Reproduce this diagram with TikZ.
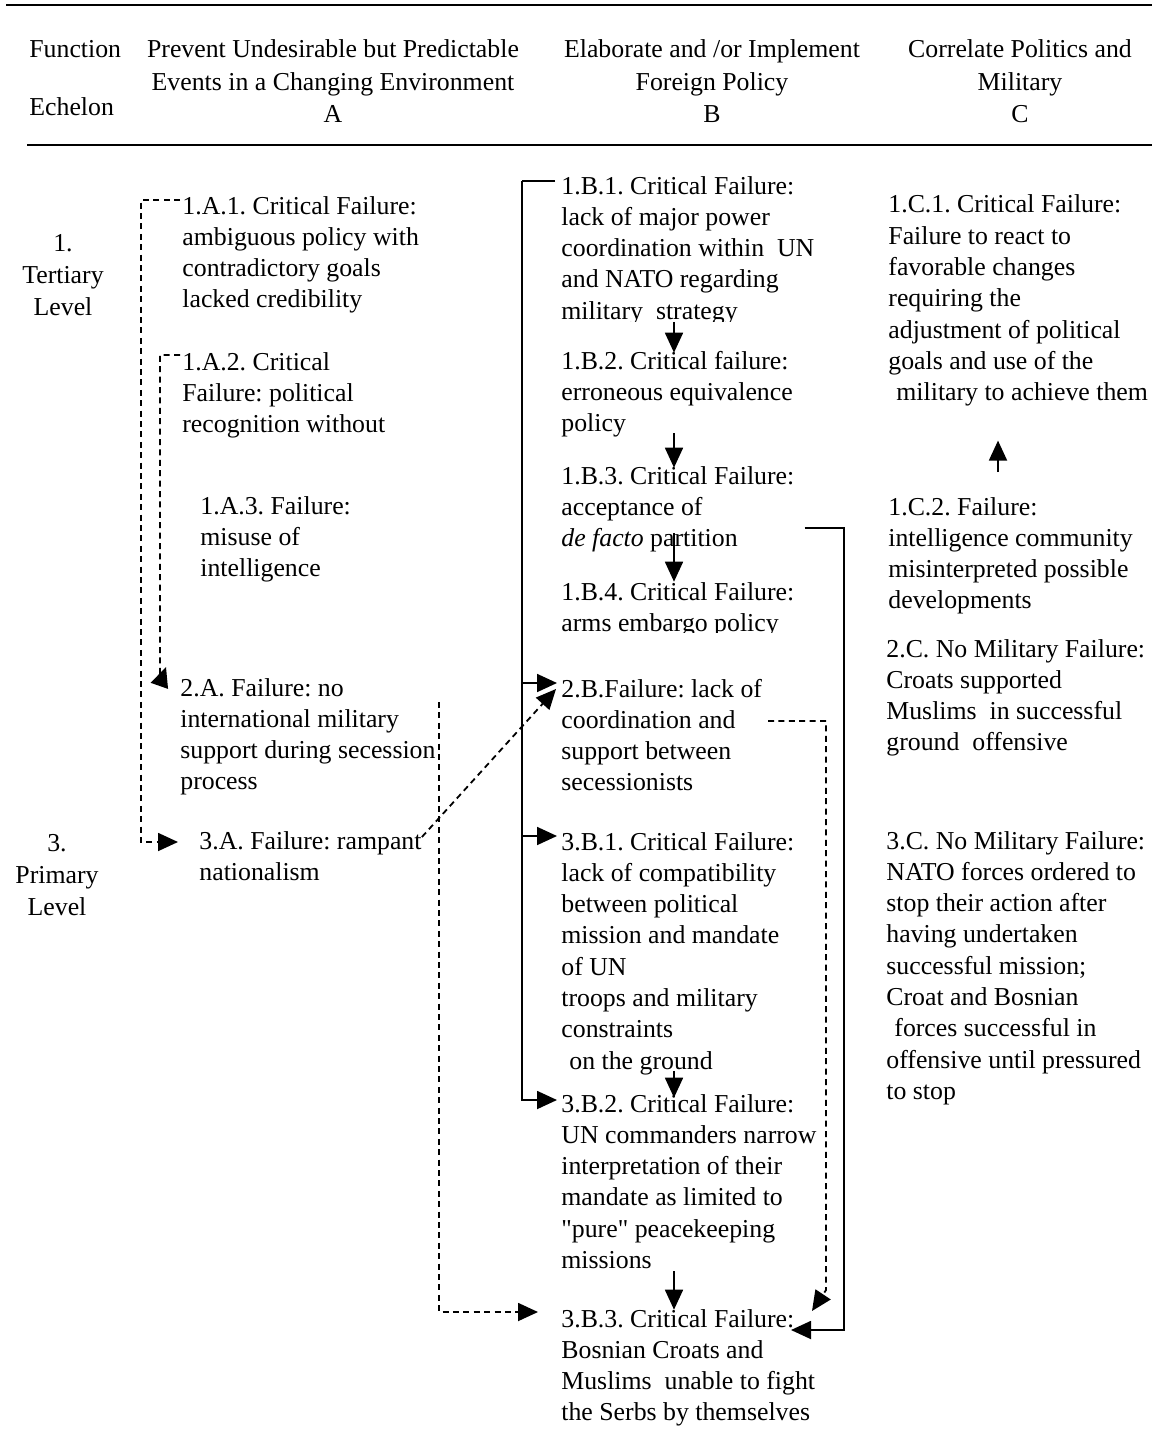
\documentclass[tikz,border=0pt]{standalone}
\usepackage{fontspec}
\setmainfont{Liberation Serif}
\usetikzlibrary{arrows.meta}
\frenchspacing
\newcommand{\cellfont}{\fontsize{12.9}{15.65}\selectfont}
\newcommand{\headfont}{\fontsize{12.9}{16.2}\selectfont}
% first line carries the baseline of the node
\newcommand{\lcell}[1]{\begin{tabular}[t]{@{}l@{}}#1\end{tabular}}
\newcommand{\ccell}[1]{\begin{tabular}[t]{@{}c@{}}#1\end{tabular}}
\tikzstyle{cell} = [anchor=base west,
                    inner sep=0pt,
                    font=\cellfont]
\tikzstyle{head} = [anchor=base,
                    inner sep=0pt,
                    font=\headfont]
\tikzstyle{rule} = [line width=1.2pt]
\tikzstyle{wire} = [line width=0.9pt]
\tikzstyle{link} = [wire,
                    -{Triangle[length=10pt,width=9pt]}]
\tikzstyle{dlink} = [link, dash pattern=on 3pt off 2.2pt]

\begin{document}
\begin{tikzpicture}[x=0.5pt,y=-0.5pt]
    \useasboundingbox (0,0) rectangle (1152,1429);
    % header
    \draw[rule] (6,5) -- (1152,5);
    \draw[rule] (27,145) -- (1152,145);
    \node (fn) [cell,font=\headfont] at (29,58) {Function};
    \node (ech) [cell,font=\headfont] at (29,116) {Echelon};
    \node (hA) [head] at (333,58) {\ccell{Prevent Undesirable but Predictable\\Events in a Changing Environment\\A}};
    \node (hB) [head] at (712,58) {\ccell{Elaborate and /or Implement\\Foreign Policy\\B}};
    \node (hC) [head] at (1020,58) {\ccell{Correlate Politics and\\Military\\C}};
    % echelons
    \node (lv1) [head] at (63,251) {\ccell{1.\\Tertiary\\Level}};
    \node (lv3) [head] at (57,851) {\ccell{3.\\Primary\\Level}};
    % column A
    \node (a11) [cell] at (182,214) {\lcell{1.A.1. Critical Failure:\\ambiguous policy with\\contradictory goals\\lacked credibility}};
    \node (a12) [cell] at (182,370) {\lcell{1.A.2. Critical\\Failure: political\\recognition without}};
    \node (a13) [cell] at (200,514) {\lcell{1.A.3. Failure:\\misuse of\\intelligence}};
    \node (a2) [cell] at (180,696) {\lcell{2.A. Failure: no\\international military\\support during secession\\process}};
    \node (a3) [cell] at (199,849) {\lcell{3.A. Failure: rampant\\nationalism}};
    % column B
    \begin{scope}
      \clip (540,160) rectangle (900,321);
      \node (b11) [cell] at (561,194) {\lcell{1.B.1. Critical Failure:\\lack of major power\\coordination within\ \ UN\\and NATO regarding\\military\ \ strategy}};
    \end{scope}
    \node (b12) [cell] at (561,369) {\lcell{1.B.2. Critical failure:\\erroneous equivalence\\policy}};
    \node (b13) [cell] at (561,484) {\lcell{1.B.3. Critical Failure:\\acceptance of\\\textit{de facto} partition}};
    \begin{scope}
      \clip (540,570) rectangle (900,632);
      \node (b14) [cell] at (561,600) {\lcell{1.B.4. Critical Failure:\\arms embargo policy}};
    \end{scope}
    \node (b2) [cell] at (561,697) {\lcell{2.B.Failure: lack of\\coordination and\\support between\\secessionists}};
    \node (b31) [cell] at (561,850) {\lcell{3.B.1. Critical Failure:\\lack of compatibility\\between political\\mission and mandate\\of UN\\troops and military\\constraints\\\hspace*{4pt}on the ground}};
    \node (b32) [cell] at (561,1112) {\lcell{3.B.2. Critical Failure:\\UN commanders narrow\\interpretation of their\\mandate as limited to\\\textquotedbl pure\textquotedbl{} peacekeeping\\missions}};
    \node (b33) [cell] at (561,1327) {\lcell{3.B.3. Critical Failure:\\Bosnian Croats and\\Muslims\ \ unable to fight\\the Serbs by themselves}};
    % column C
    \node (c11) [cell] at (888,213) {\lcell{1.C.1. Critical Failure:\\Failure to react to\\favorable changes\\requiring the\\adjustment of political\\goals and use of the\\\hspace*{4pt}military to achieve them}};
    \node (c12) [cell] at (888,515) {\lcell{1.C.2. Failure:\\intelligence community\\misinterpreted possible\\developments}};
    \node (c2) [cell] at (886,657) {\lcell{2.C. No Military Failure:\\Croats supported\\Muslims\ \ in successful\\ground\ \ offensive}};
    \node (c3) [cell] at (886,849) {\lcell{3.C. No Military Failure:\\NATO forces ordered to\\stop their action after\\having undertaken\\successful mission;\\Croat and Bosnian\\\hspace*{4pt}forces successful in\\offensive until pressured\\to stop}};

    % dashed links in column A
    \draw[dlink] ([shift={(-2,-14)}]a11.base west) -- ++(-39,0) |- ([shift={(-21,-7)}]a3.base west);
    \draw[dlink] ([shift={(-2,-15)}]a12.base west) -- ++(-20,0)
      -- ([shift={(-20,-12)}]a2.base west) -- ([shift={(-14,-29)}]a2.base west);
    \draw[dlink] ([shift={(3,6)}]a2.base east) |- ([shift={(-23,-15)}]b33.base west);
    \draw[dlink] ([shift={(0,-12)}]a3.base east) -- ([shift={(-5,-8)}]b2.base west);

    % bracket in column B
    \coordinate (spine) at ([shift={(-39,-13)}]b11.base west);
    \draw[wire] ([shift={(-6,-13)}]b11.base west) -- (spine);
    \draw[link] (spine) |- ([shift={(-4,-14)}]b2.base west);
    \draw[link] (spine) |- ([shift={(-4,-14)}]b31.base west);
    \draw[link] (spine) |- ([shift={(-4,-12)}]b32.base west);

    % chain in column B
    \coordinate (bx) at (674,0);
    \draw[link] ([shift={(0,-7)}]bx |- b11.south) -- ([shift={(0,6)}]bx |- b12.north);
    \draw[link] ([shift={(0,-8)}]bx |- b12.south) -- ([shift={(0,6)}]bx |- b13.north);
    \draw[link] ([shift={(0,-23)}]bx |- b13.south) -- ([shift={(0,4)}]bx |- b14.north);
    \draw[link] ([shift={(0,-8)}]bx |- b31.south) -- ([shift={(0,8)}]bx |- b32.north);
    \draw[link] ([shift={(0,-7)}]bx |- b32.south) -- ([shift={(0,5)}]bx |- b33.north);

    \draw[link] ([shift={(10,44)}]b13.base east) -- ++(39,0) |- ([shift={(230,3)}]b33.base west);
    \draw[dlink] ([shift={(207,24)}]b2.base west) -- ++(58,0)
      -- ([shift={(265,-37)}]b33.base west) -- ([shift={(251,-16)}]b33.base west);

    % column C
    \draw[link] ([shift={(110,-43)}]c12.base west) -- ([shift={(110,30)}]c11.south west);
\end{tikzpicture}
\end{document}
